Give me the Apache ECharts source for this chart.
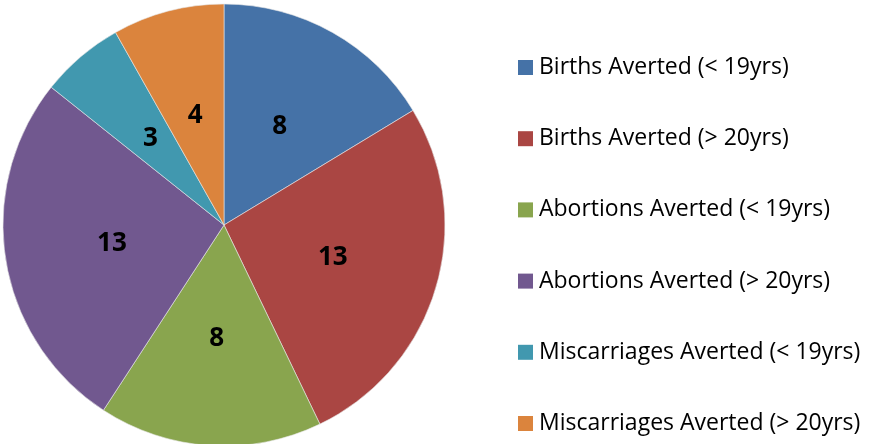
<!DOCTYPE html>
<html>
<head>
<meta charset="utf-8">
<script src="https://cdn.jsdelivr.net/npm/echarts@6/dist/echarts.min.js"></script>
<style>
  html, body { margin: 0; padding: 0; background: #fff; }
  #chart { width: 869px; height: 444px; }
</style>
</head>
<body>
<div id="chart"></div>
<script>
const categories = [
  "Births Averted (< 19yrs)",
  "Births Averted (> 20yrs)",
  "Abortions Averted (< 19yrs)",
  "Abortions Averted (> 20yrs)",
  "Miscarriages Averted (< 19yrs)",
  "Miscarriages Averted (> 20yrs)",
];
const values = [8, 13, 8, 13, 3, 4];
const colors = ["#4572A7", "#AA4643", "#89A54E", "#71588F", "#4198AF", "#DB843D"];

const chart = echarts.init(document.getElementById("chart"));
const option = {
  animation: false,
  color: colors,
  legend: {
    orient: "vertical",
    left: 513,
    top: 51,
    itemWidth: 15,
    itemHeight: 15,
    itemGap: 48.2,
    icon: "rect",
    itemStyle: { borderWidth: 0 },
    textStyle: {
      fontFamily: "Open Sans",
      fontSize: 23,
      color: "#000",
      padding: [0, 0, 0, 1],
    },
    data: categories,
  },
  series: [
    {
      type: "pie",
      center: [224, 225],
      radius: 221,
      startAngle: 90,
      clockwise: true,
      itemStyle: { borderColor: "#e8e8e8", borderWidth: 0.6 },
      label: {
        position: "inside",
        formatter: "{c}",
        color: "#000",
        fontFamily: "Open Sans",
        fontWeight: "bold",
        fontSize: 26,
        padding: [5, 0, 0, 0],
      },
      labelLine: { show: false },
      emphasis: { disabled: true },
      data: categories.map((name, i) => ({ name, value: values[i] })),
    },
  ],
};
chart.setOption(option);
</script>
</body>
</html>
